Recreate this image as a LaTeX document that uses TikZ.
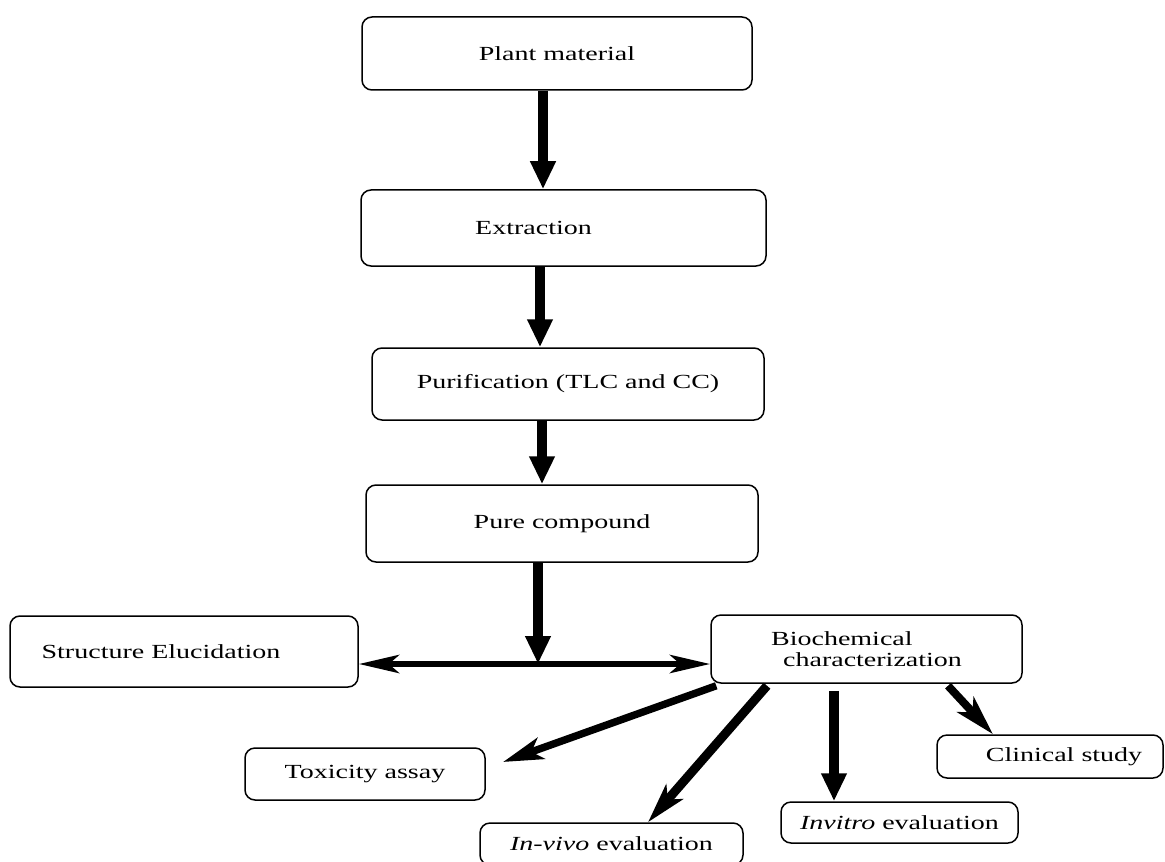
\documentclass[tikz,border=0pt]{standalone}
\usepackage{fontspec}
\setmainfont{Liberation Serif}[FakeStretch=1.4]
\usetikzlibrary{arrows.meta}

\begin{document}
\begin{tikzpicture}[x=0.5pt, y=-0.5pt,
  box/.style={draw, rounded corners=5pt, line width=0.75pt, inner sep=0pt,
    font=\fontsize{10}{10.5}\selectfont},
  down/.style={line width=5pt, -{Triangle[length=14pt, width=12pt]}},
  slant/.style={-{Stealth[length=20pt, width=11pt, inset=5pt]}},
  both/.style={line width=3.2pt, {Stealth[length=20pt, width=9pt, inset=5pt]}-{Stealth[length=20pt, width=9pt, inset=5pt]}}]
\useasboundingbox (0,0) rectangle (1165,861);
% Main chain
\node[box, minimum width=195pt, minimum height=36.5pt] (plant) at (557,53.5) {Plant material};
\node[box, minimum width=202.5pt, minimum height=38pt] (extr) at (563.5,228) {Extraction\hspace*{30pt}};
\node[box, minimum width=196pt, minimum height=36pt] (puri) at (568,384) {Purification (TLC and CC)};
\node[box, minimum width=196pt, minimum height=38.5pt] (pure) at (562,523.5) {Pure compound};
% Second row
\node[box, minimum width=174pt, minimum height=35.5pt] (struct) at (184,651.5) {Structure Elucidation\hspace*{23pt}};
\node[box, minimum width=155.5pt, minimum height=34pt, align=left] (bio) at (866.5,649) {Biochemical\\\hspace*{6pt}characterization};
% Evaluations
\node[box, minimum width=120pt, minimum height=26pt] (tox) at (365,774) {Toxicity assay};
\node[box, minimum width=131.5pt, minimum height=21pt] (invivo) at (611.5,844) {\textit{In-vivo} evaluation};
\node[box, minimum width=118.5pt, minimum height=20.5pt] (invitro) at (899.5,822.5) {\textit{Invitro} evaluation};
\node[box, minimum width=113pt, minimum height=21.5pt] (clin) at (1050,756.5) {\hspace*{14pt}Clinical study};
% Coordinates of arrow lines
\coordinate (x1) at (543,0);
\coordinate (x2) at (540,0);
\coordinate (x3) at (542,0);
\coordinate (junc) at (538,664);
\coordinate (x5) at (834,0);
\coordinate (toxtip) at (503,762);
% Vertical arrows
\draw[down] (plant.south -| x1) -- (extr.north -| x1);
\draw[down] (extr.south -| x2) -- (puri.north -| x2);
\draw[down] (puri.south -| x3) -- (pure.north -| x3);
\draw[down] (pure.south -| junc) -- (junc);
% Split to both sides
\draw[both] (struct.east |- junc) -- (bio.west |- junc);
% Arrows out of biochemical characterization
\draw[slant, line width=3.7pt] ([xshift=3pt, yshift=-1pt]bio.south west) -- (toxtip);
\draw[slant, line width=4.5pt] ([xshift=-49.75pt, yshift=-1pt]bio.south) -- ([xshift=18.25pt]invivo.north);
\draw[down] ([yshift=-3.5pt]bio.south -| x5) -- (invitro.north -| x5);
\draw[slant, line width=4pt] ([xshift=40.75pt, yshift=-1pt]bio.south) -- ([xshift=-28.5pt]clin.north);
\end{tikzpicture}
\end{document}
